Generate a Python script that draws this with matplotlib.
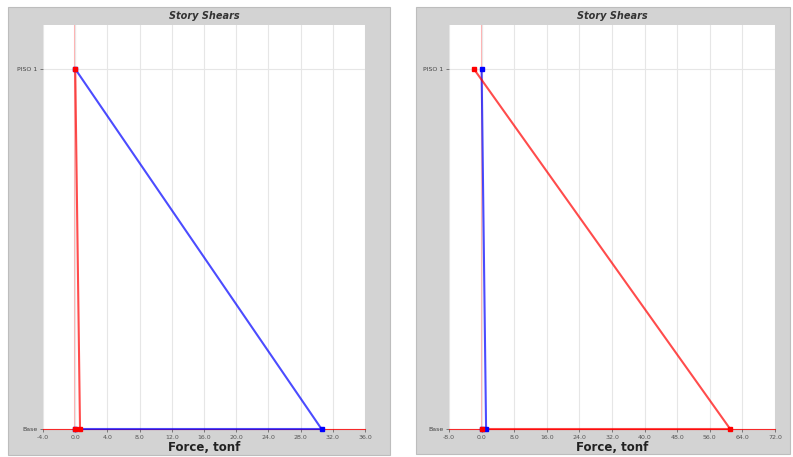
import numpy as np
import matplotlib.pyplot as plt
from matplotlib.patches import Rectangle

# story levels: Base = 0, PISO 1 = 1
story_labels = ['Base', 'PISO 1']

# left chart (story shears, tonf)
left_blue_x = [0.0, 30.6, 0.0]
left_blue_y = [1, 0, 0]
left_red_x = [0.0, 0.6, 0.0]
left_red_y = [1, 0, 0]
left_ticks = np.arange(-4, 37, 4)

# right chart
right_blue_x = [0.0, 1.1, 0.0]
right_blue_y = [1, 0, 0]
right_red_x = [-1.9, 61.0, 0.0]
right_red_y = [1, 0, 0]
right_ticks = np.arange(-8, 73, 8)

W, H = 793, 457
fig = plt.figure(figsize=(W / 100, H / 100), dpi=100)
fig.patch.set_facecolor('white')

panel_gray = '#d3d3d3'
fig.patches.append(Rectangle((8 / W, 2 / H), 382 / W, 448 / H, transform=fig.transFigure,
                             facecolor=panel_gray, edgecolor='#bdbdbd', lw=0.8, zorder=-1))
fig.patches.append(Rectangle((416 / W, 3 / H), 374 / W, 447 / H, transform=fig.transFigure,
                             facecolor=panel_gray, edgecolor='#bdbdbd', lw=0.8, zorder=-1))


def story_plot(ax, ticks, first, second):
    ax.set_facecolor('white')
    ax.set_xlim(ticks[0], ticks[-1])
    ax.set_ylim(0, 1.122)
    ax.set_xticks(ticks)
    ax.set_xticklabels(['%.1f' % t for t in ticks], fontsize=4.5, color='#555555')
    ax.set_yticks([0, 1])
    ax.set_yticklabels(story_labels, fontsize=4.5, color='#444444')
    ax.tick_params(length=2, width=0.6, color='#666666', pad=2)
    ax.grid(True, color='#e6e6e6', lw=0.8)
    for s in ax.spines.values():
        s.set_visible(False)
    ax.axvline(0, color='red', alpha=0.3, lw=1.5, zorder=1)
    ax.axhline(0, color='red', alpha=0.8, lw=0.8, zorder=2, clip_on=False)
    for xs, ys, c in (first, second):
        ax.plot(xs, ys, color=c, lw=1.5, alpha=0.7, zorder=3, clip_on=False)
        ax.plot(xs, ys, 's', color=c, ms=2.8, zorder=4, clip_on=False)
    ax.set_title('Story Shears', fontsize=7, fontweight='bold', style='italic',
                 color='#333333', pad=4)
    ax.set_xlabel('Force, tonf', fontsize=8.5, fontweight='bold', color='#222222', labelpad=1)


ax1 = fig.add_axes([43 / W, 28 / H, 322 / W, 404 / H], zorder=1)
story_plot(ax1, left_ticks,
           (left_blue_x, left_blue_y, 'blue'),
           (left_red_x, left_red_y, 'red'))

ax2 = fig.add_axes([449 / W, 28 / H, 326 / W, 404 / H], zorder=1)
story_plot(ax2, right_ticks,
           (right_blue_x, right_blue_y, 'blue'),
           (right_red_x, right_red_y, 'red'))

plt.savefig('out.png', dpi=100)
